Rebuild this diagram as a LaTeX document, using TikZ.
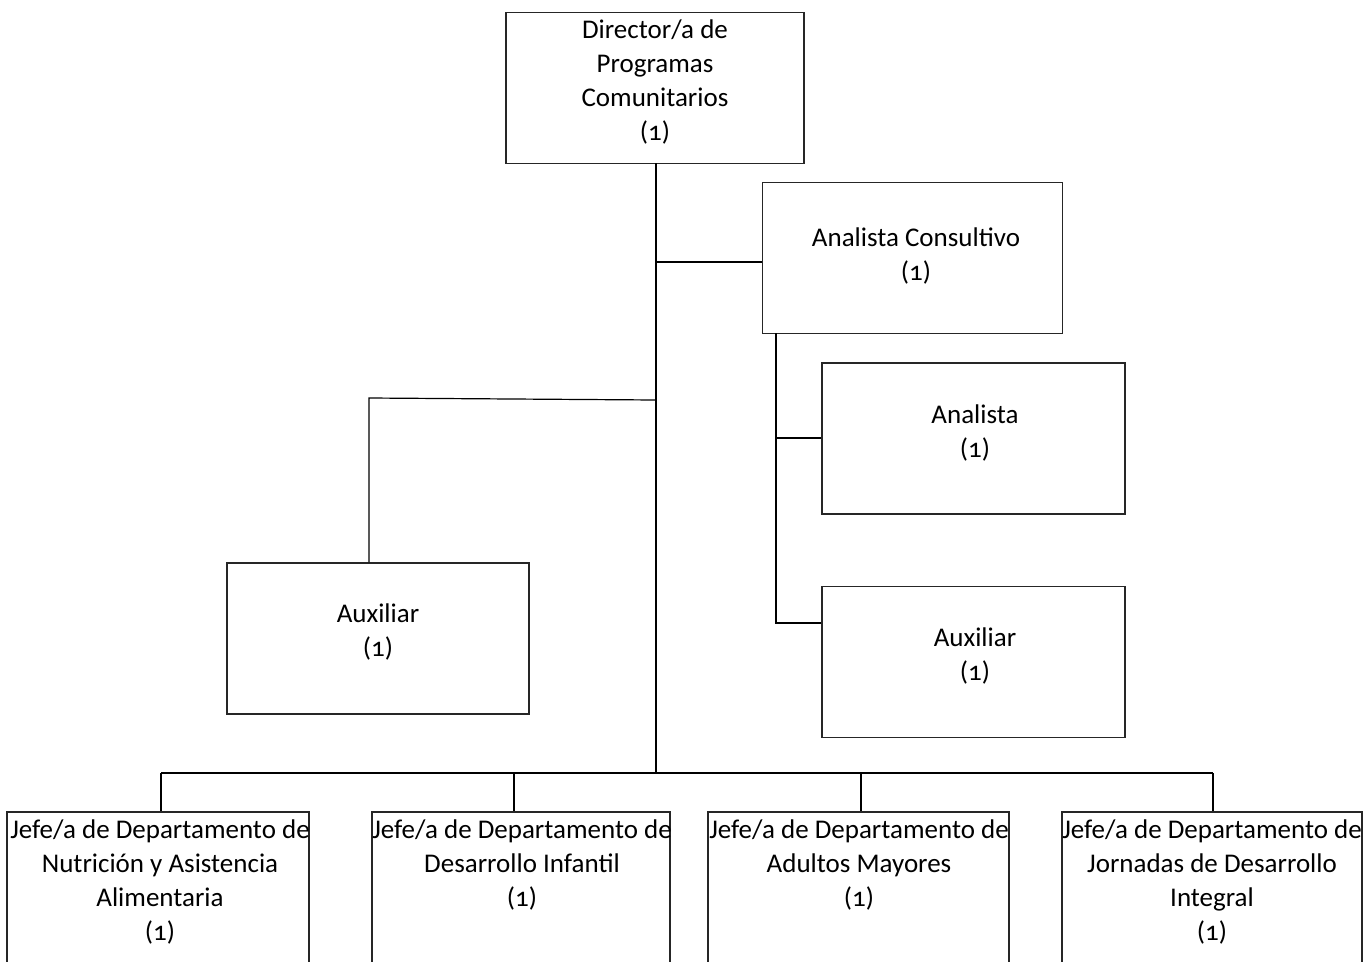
\documentclass[tikz,border=0pt]{standalone}
\usepackage{fontspec}
\setmainfont{Carlito}[Numbers=OldStyle]
\begin{document}
\begin{tikzpicture}[x=1pt,y=-1pt,
  box/.style={draw=black!85, line width=1.1pt, minimum width=300pt, minimum height=151pt, inner sep=0pt},
  lbl/.style={align=center, inner sep=0pt, font=\fontsize{27}{34}\selectfont},
  conn/.style={draw=black, line width=1.2pt}]
\useasboundingbox (0,0) rectangle (1364,961);
\clip (0,0) rectangle (1364,961);
% boxes
\node[box, minimum width=298pt] (dir) at (655,88) {};
\node[box] (ac) at (912.5,258) {};
\node[box, minimum width=303pt] (an) at (973.5,438.5) {};
\node[box, minimum width=303pt] (aux2) at (973.5,662) {};
\node[box, minimum width=302pt] (aux1) at (378,638.5) {};
\node[box, minimum width=302pt, minimum height=160pt] (j1) at (158,892) {};
\node[box, minimum width=298pt, minimum height=160pt] (j2) at (521,892) {};
\node[box, minimum width=301pt, minimum height=160pt] (j3) at (858.5,892) {};
\node[box, minimum width=300pt, minimum height=160pt] (j4) at (1212,892) {};
% texts
\node[lbl] (tdir) at (655,82) {Director/a de\\Programas\\Comunitarios\\(1)};
\node[lbl] (tac) at (916,256) {Analista Consultivo\\(1)};
\node[lbl] (tan) at (975,433) {Analista\\(1)};
\node[lbl] (taux2) at (975,656) {Auxiliar\\(1)};
\node[lbl] (taux1) at (378,632) {Auxiliar\\(1)};
\node[lbl, anchor=north] (tj1) at (160,820) {Jefe/a de Departamento de\\Nutrición y Asistencia\\Alimentaria\\(1)};
\node[lbl, anchor=north] (tj2) at (522,820) {Jefe/a de Departamento de\\Desarrollo Infantil\\(1)};
\node[lbl, anchor=north] (tj3) at (859,820) {Jefe/a de Departamento de\\Adultos Mayores\\(1)};
\node[lbl, anchor=north] (tj4) at (1212,820) {Jefe/a de Departamento de\\Jornadas de Desarrollo\\Integral\\(1)};
% coordinates
\coordinate (mtop) at (656,163);
\coordinate (mbot) at (656,773);
\coordinate (macj) at (656,262);
\coordinate (maux) at (656,400);
\coordinate (lcorner) at (369,398);
\coordinate (stop) at (776,333);
\coordinate (sbot) at (776,623);
\coordinate (san) at (776,438);
\coordinate (bl) at (161,773);
\coordinate (br) at (1213,773);
% connectors
\draw[conn] (mtop) -- (mbot);
\draw[conn] (macj) -- (macj -| ac.west);
\draw[conn] (maux) -- (lcorner) -- (lcorner |- aux1.north);
\draw[conn] (stop) -- (sbot) -- (sbot -| aux2.west);
\draw[conn] (san) -- (san -| an.west);
\draw[conn] (bl) -- (br);
\draw[conn] (bl) -- (bl |- j1.north);
\draw[conn] (514,773) coordinate (b2) -- (b2 |- j2.north);
\draw[conn] (861,773) coordinate (b3) -- (b3 |- j3.north);
\draw[conn] (br) -- (br |- j4.north);
\end{tikzpicture}
\end{document}
